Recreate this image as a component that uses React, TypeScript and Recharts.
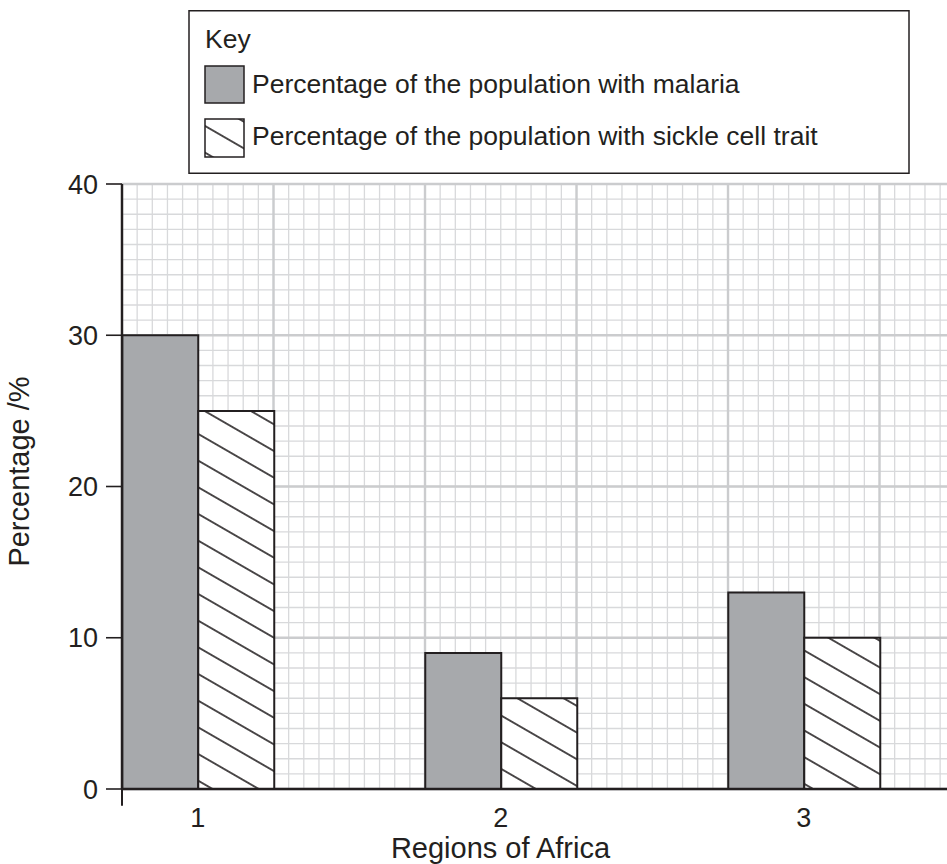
import React from 'react';
import { BarChart, Bar, XAxis, YAxis, CartesianGrid, Legend, ReferenceLine } from 'recharts';

const regions = [1, 2, 3];
const malaria = [30, 9, 13];
const sickleCell = [25, 6, 10];
const yTicks = [0, 10, 20, 30, 40];
const xTicks = [1, 2, 3];
const seriesNames = [
  'Percentage of the population with malaria',
  'Percentage of the population with sickle cell trait',
];
const keyTitle = 'Key';
const xTitle = 'Regions of Africa';
const yTitle = 'Percentage /%';

const X_DOMAIN: [number, number] = [0.75, 3.4727];
const Y_DOMAIN: [number, number] = [0, 40];

const range = (start: number, end: number, step: number) => {
  const out: number[] = [];
  const n = Math.round((end - start) / step);
  for (let i = 0; i <= n; i++) out.push(Math.round((start + i * step) * 1000) / 1000);
  return out;
};
const xMinorTicks = range(0.75, 3.45, 0.05);
const xMajorTicks = range(0.75, 3.25, 0.5);
const yMinorTicks = range(0, 40, 1);
const yMajorTicks = yTicks;

const data = regions.map((r, i) => ({ region: r, malaria: malaria[i], sickle: sickleCell[i] }));

const INK = '#231f20';
const GRAY = '#a7a9ac';
const FONT = '"Liberation Sans", Arial, sans-serif';

const mapX = (vals: number[]) => (args: any) => {
  const { xAxis, offset } = args;
  const sc = xAxis && xAxis.scale;
  return vals.map((v) =>
    typeof sc === 'function'
      ? sc(v)
      : offset.left + ((v - X_DOMAIN[0]) / (X_DOMAIN[1] - X_DOMAIN[0])) * offset.width
  );
};
const mapY = (vals: number[]) => (args: any) => {
  const { yAxis, offset } = args;
  const sc = yAxis && yAxis.scale;
  return vals.map((v) =>
    typeof sc === 'function'
      ? sc(v)
      : offset.top + (1 - (v - Y_DOMAIN[0]) / (Y_DOMAIN[1] - Y_DOMAIN[0])) * offset.height
  );
};

const HatchDef = ({ id }: { id: string }) => (
  <pattern id={id} patternUnits="userSpaceOnUse" width={23.1} height={23.1} patternTransform="rotate(30) translate(0 11.05)">
    <rect x={0} y={0} width={23.1} height={23.1} fill="#ffffff" />
    <line x1={-1} y1={11.55} x2={24.1} y2={11.55} stroke={INK} strokeWidth={1.6} />
  </pattern>
);

const renderLegend = () => (
  <svg width={722} height={164} style={{ display: 'block' }}>
    <defs>
      <HatchDef id="hatchLegend" />
    </defs>
    <rect x={1} y={0.75} width={720} height={162.5} fill="#fff" stroke={INK} strokeWidth={1.5} />
    <text x={17} y={38} fontSize={26.5} fill={INK} fontFamily={FONT}>{keyTitle}</text>
    <rect x={17} y={56} width={39} height={37} fill={GRAY} stroke={INK} strokeWidth={1.5} />
    <text x={64} y={83} fontSize={26.5} fill={INK} fontFamily={FONT}>{seriesNames[0]}</text>
    <rect x={17} y={109} width={39} height={38} fill="url(#hatchLegend)" stroke={INK} strokeWidth={1.5} />
    <text x={64} y={135} fontSize={26.5} fill={INK} fontFamily={FONT}>{seriesNames[1]}</text>
  </svg>
);

const XTick = (props: any) => {
  const { x, y, payload } = props;
  return (
    <text x={x} y={y} dy="0.71em" textAnchor="middle" fontSize={27} fill={INK} fontFamily={FONT}>
      {payload.value}
    </text>
  );
};

const YTitle = (props: any) => {
  const vb = props.viewBox || { x: 0, y: 184, width: 122, height: 605 };
  const cx = vb.x + 19;
  const cy = vb.y + vb.height / 2 - 15;
  return (
    <text x={cx} y={cy} dy="0.355em" textAnchor="middle" fontSize={29} fill={INK} fontFamily={FONT} transform={`rotate(-90, ${cx}, ${cy})`}>
      {yTitle}
    </text>
  );
};

export default function App() {
  return (
    <div style={{ position: 'absolute', left: 0, top: 0, width: 947, height: 864, background: '#fff', fontFamily: FONT }}>
      <BarChart
        width={947}
        height={864}
        data={data}
        margin={{ top: 20, right: 0, bottom: 0, left: 0 }}
        barGap={0}
        barCategoryGap={0}
      >
        <defs>
          <HatchDef id="hatchBar" />
        </defs>
        <Legend
          verticalAlign="top"
          align="left"
          content={renderLegend}
          wrapperStyle={{ position: 'absolute', left: 188, top: 10, width: 722, height: 164 }}
        />
        <CartesianGrid
          xAxisId="x"
          yAxisId="y"
          stroke="#d8d9db"
          strokeWidth={1.3}
          verticalCoordinatesGenerator={mapX(xMinorTicks)}
          horizontalCoordinatesGenerator={mapY(yMinorTicks)}
        />
        <CartesianGrid
          xAxisId="x"
          yAxisId="y"
          stroke="#cbccce"
          strokeWidth={2.4}
          verticalCoordinatesGenerator={mapX(xMajorTicks)}
          horizontalCoordinatesGenerator={mapY(yMajorTicks)}
        />
        <XAxis
          xAxisId="x"
          type="number"
          dataKey="region"
          domain={X_DOMAIN}
          ticks={xTicks}
          tickLine={false}
          tickSize={0}
          tickMargin={19}
          tick={<XTick />}
          axisLine={{ stroke: INK, strokeWidth: 2.4 }}
          height={75}
          allowDataOverflow
          label={{ value: xTitle, position: 'insideBottom', offset: 6, dx: -34, fontSize: 29, fill: INK, fontFamily: FONT }}
        />
        <YAxis
          yAxisId="y"
          type="number"
          domain={Y_DOMAIN}
          ticks={yTicks}
          width={122}
          tickSize={16}
          tickMargin={8}
          tickLine={{ stroke: INK, strokeWidth: 1.6 }}
          axisLine={{ stroke: INK, strokeWidth: 2.4 }}
          tick={{ fontSize: 27, fill: INK, fontFamily: FONT }}
          label={<YTitle />}
          allowDataOverflow
        />
        <ReferenceLine
          xAxisId="x"
          yAxisId="y"
          segment={[{ x: X_DOMAIN[0], y: 0 }, { x: X_DOMAIN[0], y: -1.1 }]}
          ifOverflow="visible"
          stroke={INK}
          strokeWidth={2}
        />
        <Bar xAxisId="x" yAxisId="y" dataKey="malaria" name={seriesNames[0]} fill={GRAY} stroke={INK} strokeWidth={2} barSize={76} isAnimationActive={false} />
        <Bar xAxisId="x" yAxisId="y" dataKey="sickle" name={seriesNames[1]} fill="url(#hatchBar)" stroke={INK} strokeWidth={2} barSize={76} isAnimationActive={false} />
      </BarChart>
    </div>
  );
}
